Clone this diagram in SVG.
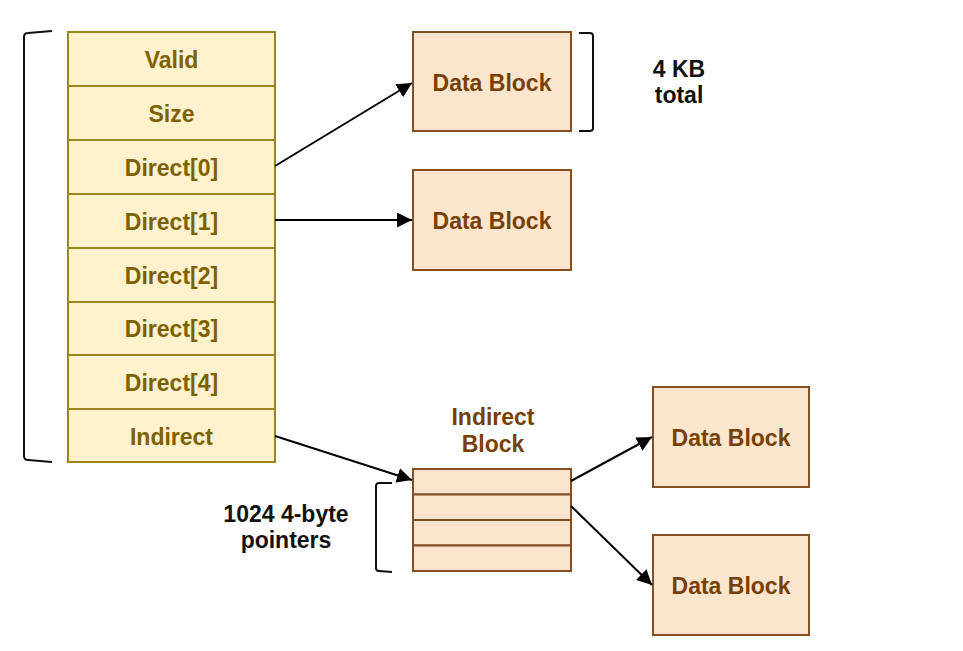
<svg xmlns="http://www.w3.org/2000/svg" width="963" height="651" viewBox="0 0 963 651">
<defs>
<style>
.inode{fill:#fff2cc;stroke:#9c8420;stroke-width:2}
.blk{fill:#fce5cd;stroke:#844f22;stroke-width:2}
.it{font-family:"Liberation Sans",Arial,sans-serif;font-weight:bold;font-size:23px;fill:#7f6000;text-anchor:middle}
.bt{font-family:"Liberation Sans",Arial,sans-serif;font-weight:bold;font-size:23px;fill:#783f04;text-anchor:middle}
.lt{font-family:"Liberation Sans",Arial,sans-serif;font-weight:bold;font-size:23px;fill:#111;text-anchor:middle}
.br{fill:none;stroke:#111;stroke-width:2}
.cn{fill:none;stroke:#000;stroke-width:2}
</style>
<marker id="ah" viewBox="0 0 10 10" refX="10" refY="5" markerWidth="7.5" markerHeight="7.5" markerUnits="strokeWidth" orient="auto">
<path d="M0,0 L10,5 L0,10 z" fill="#000"/>
</marker>
</defs>
<rect width="963" height="651" fill="#fff"/>
<g id="inode">
<rect class="inode" x="68" y="32" width="207" height="54"/>
<rect class="inode" x="68" y="86" width="207" height="54"/>
<rect class="inode" x="68" y="140" width="207" height="54"/>
<rect class="inode" x="68" y="194" width="207" height="54"/>
<rect class="inode" x="68" y="248" width="207" height="54"/>
<rect class="inode" x="68" y="302" width="207" height="53"/>
<rect class="inode" x="68" y="355" width="207" height="54"/>
<rect class="inode" x="68" y="409" width="207" height="53"/>
<text class="it" x="171.5" y="67.5">Valid</text>
<text class="it" x="171.5" y="121.5">Size</text>
<text class="it" x="171.5" y="175.5">Direct[0]</text>
<text class="it" x="171.5" y="229.5">Direct[1]</text>
<text class="it" x="171.5" y="283.5">Direct[2]</text>
<text class="it" x="171.5" y="336.5">Direct[3]</text>
<text class="it" x="171.5" y="390.5">Direct[4]</text>
<text class="it" x="171.5" y="444.5">Indirect</text>
</g>
<g id="inode-bracket">
<path class="br" d="M52,31 L28,33 Q24,33 24,37 L24,456 Q24,460 28,460 L52,462"/>
</g>
<g id="data1">
<rect class="blk" x="413" y="32" width="158" height="99"/>
<text class="bt" x="492" y="91">Data Block</text>
</g>
<g id="size-bracket">
<path class="br" d="M579,33 L590,33 Q593,33 593,36 L593,128 Q593,131 590,131 L579,131"/>
<text class="lt" x="679" y="77">4 KB</text>
<text class="lt" x="679" y="103">total</text>
</g>
<g id="data2">
<rect class="blk" x="413" y="170" width="158" height="100"/>
<text class="bt" x="492" y="229">Data Block</text>
</g>
<g id="indirect-block">
<text class="bt" x="493" y="425">Indirect</text>
<text class="bt" x="493" y="452">Block</text>
<rect class="blk" x="413" y="469" width="158" height="25.5"/>
<rect class="blk" x="413" y="494.5" width="158" height="25.5"/>
<rect class="blk" x="413" y="520" width="158" height="25.5"/>
<rect class="blk" x="413" y="545.5" width="158" height="25.5"/>
</g>
<g id="pointers-bracket">
<path class="br" d="M392,483 L379,483 Q376,483 376,486 L376,568 Q376,571 379,571 L392,572"/>
<text class="lt" x="286" y="522">1024 4-byte</text>
<text class="lt" x="286" y="548">pointers</text>
</g>
<g id="data3">
<rect class="blk" x="653" y="387" width="156" height="100"/>
<text class="bt" x="731" y="446">Data Block</text>
</g>
<g id="data4">
<rect class="blk" x="653" y="535" width="156" height="100"/>
<text class="bt" x="731" y="594">Data Block</text>
</g>
<g id="connectors">
<line class="cn" x1="275" y1="166" x2="412" y2="83" marker-end="url(#ah)"/>
<line class="cn" x1="275" y1="220" x2="412" y2="220" marker-end="url(#ah)"/>
<line class="cn" x1="275" y1="436" x2="412" y2="480" marker-end="url(#ah)"/>
<line class="cn" x1="571" y1="481" x2="652" y2="437" marker-end="url(#ah)"/>
<line class="cn" x1="571" y1="506" x2="652" y2="585" marker-end="url(#ah)"/>
</g>
</svg>
